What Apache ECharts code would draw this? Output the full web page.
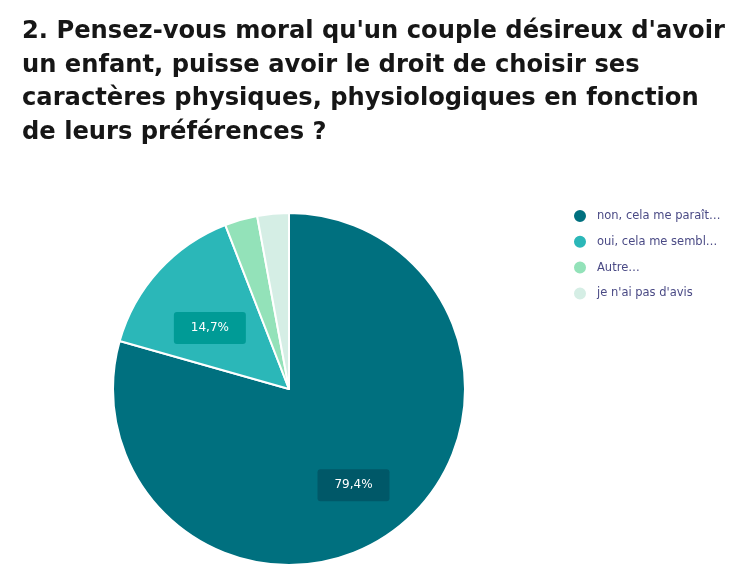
<!DOCTYPE html>
<html>
<head>
<meta charset="utf-8">
<script src="https://cdn.jsdelivr.net/npm/echarts@6/dist/echarts.min.js"></script>
<style>
  html, body { margin: 0; padding: 0; background: #fff; }
  #chart { width: 750px; height: 577px; }
</style>
</head>
<body>
<div id="chart"></div>
<script>
// réponses et pourcentages
const categories = ["non, cela me paraît…", "oui, cela me sembl…", "Autre…", "je n'ai pas d'avis"]
const values = [79.4, 14.7, 3.0, 2.9]
const colors = ['#00707F', '#2BB7B8', '#93E2B9', '#D5EEE5']
const labelBg = ['#005868', '#009B96', '#93E2B9', '#D5EEE5']

const myChart = echarts.init(document.getElementById('chart'))

const pieData = categories.map((name, i) => ({ name, value: values[i] }))

const options = {
    title: {
        text: "2. Pensez-vous moral qu'un couple désireux d'avoir\nun enfant, puisse avoir le droit de choisir ses\ncaractères physiques, physiologiques en fonction\nde leurs préférences ?",
        left: 17,
        top: 10,
        textStyle: {
            fontFamily: 'DejaVu Sans',
            fontSize: 24.2,
            fontWeight: 'bold',
            color: '#161616',
            lineHeight: 33.5
        }
    },
    legend: {
        orient: 'vertical',
        left: 567,
        top: 203,
        icon: 'circle',
        itemWidth: 14,
        itemHeight: 14,
        itemGap: 9.8,
        textStyle: {
            fontFamily: 'DejaVu Sans',
            fontSize: 11.5,
            color: '#4a4a85',
            padding: [0, 0, 0, 5]
        },
        data: categories
    },
    series: [
        {
            type: 'pie',
            center: [289, 389],
            radius: [0, 176],
            startAngle: 90,
            clockwise: true,
            silent: true,
            itemStyle: {
                borderColor: '#fff',
                borderWidth: 2
            },
            label: { show: false },
            labelLine: { show: false },
            data: pieData.map((d, i) => ({ ...d, itemStyle: { color: colors[i] } }))
        },
        {
            // série invisible pour placer les étiquettes
            name: 'labels',
            type: 'pie',
            center: [289, 389],
            radius: [32, 176],
            startAngle: 90,
            silent: true,
            legendHoverLink: false,
            itemStyle: { color: 'rgba(0,0,0,0)' },
            labelLine: { show: false },
            labelLayout: { dx: 0, dy: 11 },
            label: {
                position: 'inside',
                formatter: p => p.value.toFixed(1).replace('.', ',') + '%',
                color: '#fff',
                fontFamily: 'DejaVu Sans',
                fontSize: 12,
                width: 52,
                align: 'center',
                padding: [10, 10],
                borderRadius: 3
            },
            data: pieData.map((d, i) => ({
                ...d,
                label: values[i] > 10
                    ? { show: true, backgroundColor: labelBg[i] }
                    : { show: false }
            }))
        }
    ]
}

myChart.setOption(options)
</script>
</body>
</html>
